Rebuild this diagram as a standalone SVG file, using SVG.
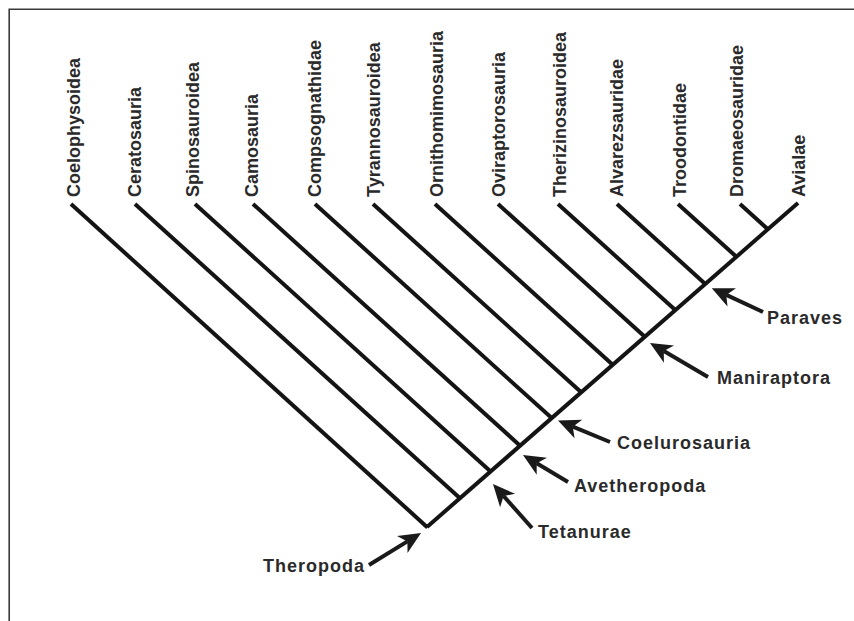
<svg xmlns="http://www.w3.org/2000/svg" width="854" height="621" viewBox="0 0 854 621">
<style>
.frame{stroke:#3a3a3a;stroke-width:1.6;fill:none}
.br{stroke:#141414;stroke-width:4;fill:none;stroke-linecap:butt}
.arr{stroke:#1a1a1a;stroke-width:4;fill:none;marker-end:url(#ah)}
.leaf{font-family:"Liberation Sans",Arial,Helvetica,sans-serif;font-weight:bold;font-size:18px;fill:#2a2a2a}
.clade{font-family:"Liberation Sans",Arial,Helvetica,sans-serif;font-weight:bold;font-size:18px;letter-spacing:1px;fill:#2a2a2a}
</style>
<defs>
<marker id="ah" markerUnits="userSpaceOnUse" viewBox="-8 -12 26 24" refX="0" refY="0" markerWidth="26" markerHeight="24" orient="auto">
<path d="M16,0 L-6,-10 L0,0 L-6,10 Z" fill="#1a1a1a"/>
</marker>
</defs>
<rect width="854" height="621" fill="#ffffff"/>
<path class="frame" d="M9.2,621 V9.2 H854"/>
<g id="connectors">
<line class="br" x1="427" y1="527" x2="798" y2="203"/>
<line class="br" x1="71" y1="204" x2="427.5" y2="527.4"/>
<line class="br" x1="135" y1="204" x2="460" y2="498.2"/>
<line class="br" x1="195" y1="204" x2="490.6" y2="471.5"/>
<line class="br" x1="253" y1="204" x2="520.1" y2="445.7"/>
<line class="br" x1="315" y1="204" x2="551.7" y2="418.1"/>
<line class="br" x1="373" y1="204" x2="581.2" y2="392.3"/>
<line class="br" x1="435" y1="204" x2="612.7" y2="364.8"/>
<line class="br" x1="498" y1="204" x2="644.8" y2="336.8"/>
<line class="br" x1="558" y1="204" x2="675.3" y2="310.1"/>
<line class="br" x1="617" y1="204" x2="705.3" y2="283.9"/>
<line class="br" x1="678" y1="204" x2="736.4" y2="256.8"/>
<line class="br" x1="740" y1="204" x2="767.9" y2="229.3"/>
<line class="arr" x1="369" y1="565" x2="407.4" y2="541.4"/>
<line class="arr" x1="532" y1="528" x2="503.6" y2="496"/>
<line class="arr" x1="568" y1="482" x2="536.7" y2="463.2"/>
<line class="arr" x1="610" y1="442" x2="572.8" y2="426.7"/>
<line class="arr" x1="708" y1="377" x2="663.8" y2="351.1"/>
<line class="arr" x1="763" y1="312" x2="726.3" y2="294.9"/>
</g>
<g id="Coelophysoidea"><text class="leaf" transform="translate(80,197) rotate(-90)">Coelophysoidea</text></g>
<g id="Ceratosauria"><text class="leaf" transform="translate(141,197) rotate(-90)">Ceratosauria</text></g>
<g id="Spinosauroidea"><text class="leaf" transform="translate(199,197) rotate(-90)">Spinosauroidea</text></g>
<g id="Camosauria"><text class="leaf" transform="translate(258,197) rotate(-90)">Camosauria</text></g>
<g id="Compsognathidae"><text class="leaf" transform="translate(321,197) rotate(-90)">Compsognathidae</text></g>
<g id="Tyrannosauroidea"><text class="leaf" transform="translate(380,197) rotate(-90)">Tyrannosauroidea</text></g>
<g id="Ornithomimosauria"><text class="leaf" transform="translate(443,197) rotate(-90)">Ornithomimosauria</text></g>
<g id="Oviraptorosauria"><text class="leaf" transform="translate(505,197) rotate(-90)">Oviraptorosauria</text></g>
<g id="Therizinosauroidea"><text class="leaf" transform="translate(566,197) rotate(-90)">Therizinosauroidea</text></g>
<g id="Alvarezsauridae"><text class="leaf" transform="translate(623,197) rotate(-90)">Alvarezsauridae</text></g>
<g id="Troodontidae"><text class="leaf" transform="translate(686,197) rotate(-90)">Troodontidae</text></g>
<g id="Dromaeosauridae"><text class="leaf" transform="translate(743,197) rotate(-90)">Dromaeosauridae</text></g>
<g id="Avialae"><text class="leaf" transform="translate(805,197) rotate(-90)">Avialae</text></g>
<g id="Theropoda"><text class="clade" x="263" y="572">Theropoda</text></g>
<g id="Tetanurae"><text class="clade" x="538" y="538">Tetanurae</text></g>
<g id="Avetheropoda"><text class="clade" x="574" y="492">Avetheropoda</text></g>
<g id="Coelurosauria"><text class="clade" x="617" y="449">Coelurosauria</text></g>
<g id="Maniraptora"><text class="clade" x="717" y="384">Maniraptora</text></g>
<g id="Paraves"><text class="clade" x="767" y="324">Paraves</text></g>
</svg>
